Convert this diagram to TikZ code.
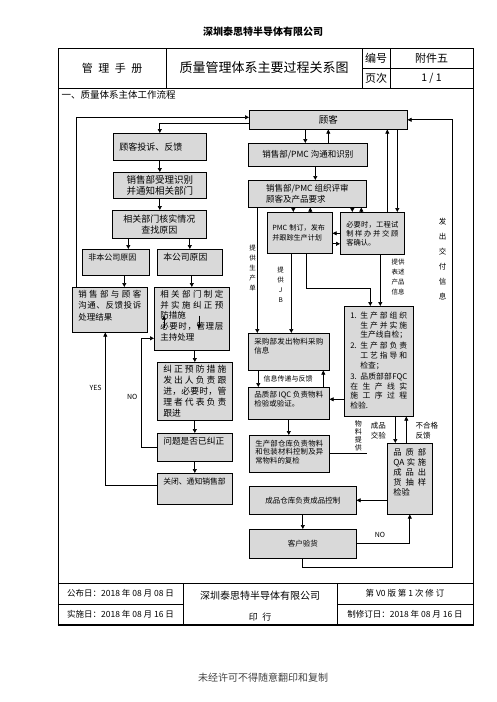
\documentclass[tikz,border=0pt]{standalone}
\usepackage{fontspec}
\setmainfont{Noto Sans CJK SC}
\usepackage{tikz}
\usetikzlibrary{arrows.meta,positioning}
% stretchable glue between Chinese characters, so that \linebreak gives full lines
\newcount\cjkchar
\cjkchar="4E00
\loop\XeTeXcharclass\cjkchar=7 \advance\cjkchar by 1 \ifnum\cjkchar<"A000 \repeat
\XeTeXcharclass"3001=8 \XeTeXcharclass"3002=8 \XeTeXcharclass"FF0C=8
\XeTeXcharclass"FF1A=8 \XeTeXcharclass"FF1B=8
\XeTeXinterchartokenstate=1
\XeTeXinterchartoks 7 7 = {\hskip 0pt plus 0.6em\relax}
\XeTeXinterchartoks 7 8 = {\nobreak\hskip 0pt plus 0.6em\relax}
\XeTeXinterchartoks 8 7 = {\hskip 0pt plus 0.6em\relax}
\definecolor{BoxGray}{HTML}{D9D9D9}
\definecolor{NoteGray}{HTML}{444444}
\newcommand{\fsz}[2]{\fontsize{#1}{#2}\selectfont}
\newcommand{\itm}[1]{\hangindent=10pt\hangafter=1\makebox[10pt][l]{#1}}
\tikzset{
  box/.style={draw=black,fill=BoxGray,line width=0.6pt,anchor=north west,inner xsep=6pt,inner ysep=3pt},
  arr/.style={-{Triangle[length=4pt,width=4pt]},line width=0.7pt},
  ln/.style={line width=0.7pt},
  frame/.style={line width=0.9pt},
  vlab/.style={align=center,inner sep=1pt,font=\fsz{6.5}{10}},
  lab/.style={inner sep=1pt,font=\fsz{7}{9}}
}

\begin{document}
\begin{tikzpicture}[x=1pt,y=-1pt]
  \useasboundingbox (0,0) rectangle (496,702);
  \fill[white] (0,0) rectangle (496,702);
  % page header and frame
  \node[font=\bfseries\fsz{10}{12}] (title) at (263,32) {深圳泰思特半导体有限公司};
  \draw[frame] (58,48) rectangle (473,625);
  \draw[frame] (58,88) -- (473,88);
  \draw[frame] (166,48) -- (166,88) (362,48) -- (362,88) (390,48) -- (390,88) (362,68) -- (473,68);
  \draw[frame] (58,583) -- (473,583) (183,583) -- (183,625) (337,583) -- (337,625) (58,604) -- (183,604) (337,604) -- (473,604);
  \draw[line width=1.6pt] (57.5,625) -- (473.5,625);
  \node[font=\fsz{11}{13}] (hman) at (112,68) {管\enspace 理\enspace 手\enspace 册};
  \node[font=\fsz{13}{15}] (htitle) at (264,68) {质量管理体系主要过程关系图};
  \node[font=\fsz{11}{13}] (hno) at (376,58) {编号};
  \node[font=\fsz{11}{13}] (hnov) at (431.5,58) {附件五};
  \node[font=\fsz{11}{13}] (hpg) at (376,78) {页次};
  \node[font=\fsz{10.5}{13}] (hpgv) at (431.5,78) {1 / 1};
  \node[anchor=west,font=\fsz{9.5}{11}] (sect) at (58,95) {一、质量体系主体工作流程};

  % complaint handling
  \node[box,text width=81pt,minimum height=27pt,align=left,font=\fsz{9}{11}] (cmp) at (113,133) {顾客投诉、反馈};
  \node[box,minimum width=93pt,minimum height=26pt,align=center,font=\fsz{9.5}{10.5}] (accept) at (113,172) {销售部受理识别\\并通知相关部门};
  \node[box,minimum width=94pt,minimum height=28pt,align=center,font=\fsz{9}{10.5}] (check) at (112,210) {相关部门核实情况\\查找原因};
  \node[box,text width=55pt,text height=8pt,text depth=12pt,align=left,font=\fsz{8}{10}] (nonown) at (82,249) {非本公司原因};
  \node[box,text width=53pt,text height=8pt,text depth=12pt,align=left,font=\fsz{8.8}{10}] (own) at (157,249) {本公司原因};
  \node[box,text width=63pt,text height=7pt,text depth=32pt,align=justify,font=\fsz{8.5}{11.5}] (reply) at (72,287) {销售部与顾客\linebreak 沟通、反馈投诉\linebreak 处理结果};
  \node[box,text width=63pt,text height=7pt,text depth=50pt,align=justify,font=\fsz{8.5}{10.7}] (corr) at (154,287) {相关部门制定\linebreak 并实施纠正预\linebreak 防措施\par 必要时，管理层\linebreak 主持处理};
  \node[box,text width=63pt,text height=7.5pt,text depth=44.5pt,align=justify,font=\fsz{8.8}{10.8}] (act) at (157,362) {纠正预防措施\linebreak 发出人负责跟\linebreak 进，必要时，管\linebreak 理者代表负责\linebreak 跟进};
  \node[box,text width=63pt,text height=8pt,text depth=14pt,align=left,font=\fsz{8.7}{10}] (fixed) at (157,433) {问题是否已纠正};
  \node[box,text width=63pt,text height=8pt,text depth=17pt,align=left,font=\fsz{7.8}{10}] (close) at (157,473) {关闭、通知销售部};

  % customer and production
  \node[box,minimum width=158pt,minimum height=19pt,font=\fsz{9.5}{11}] (cust) at (249,110) {顾客};
  \node[box,minimum width=119pt,minimum height=23pt,font=\fsz{8.5}{10}] (comm) at (248,143) {销售部/PMC 沟通和识别};
  \node[box,minimum width=118pt,minimum height=27pt,align=left,font=\fsz{8.5}{11}] (review) at (248,180) {销售部/PMC 组织评审\\顾客及产品要求};
  \node[box,inner xsep=5pt,text width=55pt,minimum height=41pt,align=left,font=\fsz{7.1}{10}] (pmc) at (267,212) {PMC 制订，发布\\并跟踪生产计划};
  \node[box,text width=52pt,minimum height=42pt,align=justify,font=\fsz{7.3}{9}] (trial) at (340,212) {必要时，工程试\linebreak 制样办并交顾\linebreak 客确认。};
  \node[box,text width=69pt,text height=8pt,text depth=23pt,align=justify,font=\fsz{7.5}{9}] (purch) at (248,333) {采购部发出物料采购\linebreak 信息};
  \node[box,text width=69pt,text height=7pt,text depth=19pt,align=justify,font=\fsz{7.5}{9}] (iqc) at (248,387) {品质部 IQC 负责物料\linebreak 检验或验证。};
  \node[box,text width=57pt,text height=9pt,text depth=95pt,align=justify,font=\fsz{7.8}{9.7}] (prod) at (344,306) {\itm{1.}生产部组织\linebreak 生产并实施\linebreak 生产线自检；\par\vspace{1.5pt}
    \itm{2.}生产部负责\linebreak 工艺指导和\linebreak 检查；\par\vspace{1.5pt}
    \itm{3.}品质部部\hskip 0pt plus 1em FQC\linebreak 在生产线实\linebreak 施工序过程\linebreak 检验.};
  \node[box,text width=68pt,text height=8pt,text depth=23pt,align=justify,font=\fsz{7.4}{8.5}] (store) at (249,435) {生产部仓库负责物料\linebreak 和包装材料控制及异\linebreak 常物料的复检};
  \node[box,text width=33pt,text height=9pt,text depth=56pt,align=justify,font=\fsz{8.3}{10}] (qa) at (387,443) {品质部\linebreak QA 实施\linebreak 成品出\linebreak 货抽样\linebreak 检验};
  \node[box,minimum width=107pt,minimum height=28pt,font=\fsz{7.5}{9}] (fg) at (249,486) {成品仓库负责成品控制};
  \node[box,minimum width=107pt,minimum height=29pt,font=\fsz{7.5}{9}] (insp) at (249,529) {客户验货};

  % complaint connectors
  \draw[arr] ([xshift=4pt]reply.north west) |- ([yshift=2.5pt]cust.west);
  \draw[arr] ([yshift=-3.5pt]cust.west) -| (cmp.north);
  \draw[arr] (cmp) -- (accept);
  \draw[arr] (accept.south) -- (accept.south |- check.north);
  \draw[arr] ([xshift=-31pt]check.south) -- ([xshift=-31pt]check.south |- nonown.north);
  \draw[arr] (check.south -| own.north) -- (own.north);
  \draw[arr] ([xshift=8.5pt]nonown.south) -- ([xshift=8.5pt]nonown.south |- reply.north);
  \draw[arr] (own.south -| corr.north) -- (corr.north);
  \draw[arr] (corr.south -| act.north) -- (act.north);
  \draw[arr] (act) -- (fixed);
  \draw[arr] (fixed) -- (close);
  \draw[arr] (fixed.west) -- ++(-16,0) |- node[pos=0.23,left,font=\fsz{7}{9}]{NO} ([yshift=-19.5pt]corr.west);
  \draw[arr] ([yshift=3.5pt]close.west) -| node[pos=0.82,left,font=\fsz{7}{9}]{YES} ([xshift=-4.5pt]reply.south);
  \draw[arr] ([xshift=10pt,yshift=23pt]corr.south west) -- ([xshift=10pt,yshift=35pt]corr.south west);
  \draw[arr] ([xshift=45pt,yshift=35pt]corr.south west) -- ([xshift=45pt,yshift=22pt]corr.south west);

  % order and production connectors
  \draw[arr] ([xshift=-2.5pt]comm.north |- cust.south) -- ([xshift=-2.5pt]comm.north);
  \draw[arr] ([xshift=20.5pt]comm.north) -- ([xshift=20.5pt]comm.north |- cust.south);
  \draw[arr] ([xshift=8pt]review.north |- comm.south) -- ([xshift=8pt]review.north);
  \draw[arr] ([xshift=-6.5pt]pmc.north |- review.south) -- ([xshift=-6.5pt]pmc.north);
  \draw[arr] ([xshift=10.5pt]pmc.north) -- ([xshift=10.5pt]pmc.north |- review.south);
  \draw[arr] ([xshift=-20pt]trial.north |- review.south) -- ([xshift=-20pt]trial.north);
  \draw[arr] ([xshift=-11pt]trial.north) -- ([xshift=-11pt]trial.north |- review.south);
  \draw[arr] ([xshift=15pt]trial.north) -- ([xshift=15pt]trial.north |- cust.south);
  \draw[arr] ([xshift=25pt]trial.north |- cust.south) -- ([xshift=25pt]trial.north);
  \draw[arr] (trial.west) -- (trial.west -| pmc.east);
  \draw[arr] ([yshift=-11pt]pmc.east) -- ([yshift=-11pt]pmc.east -| trial.west);
  \draw[arr] ([xshift=-31.5pt]purch.north |- review.south) -- node[pos=0.48,left=0pt,vlab]{提\\供\\生\\产\\单} ([xshift=-31.5pt]purch.north);
  \draw[arr] ([xshift=-8.5pt]pmc.south) -- node[pos=0.39,left=6pt,vlab]{提\\供\\J\\B} ([xshift=-8.5pt]pmc.south |- purch.north);
  \draw[arr] ([xshift=6.5pt]pmc.south) -- ++(0,35) -| ([xshift=-8.5pt]prod.north);
  \draw[arr] ([xshift=8pt]trial.south) -- node[pos=0.44,right=10pt,vlab,align=left]{提供\\表述\\产品\\信息} ([xshift=8pt]trial.south |- prod.north);
  \draw[arr] (insp.south) -- ++(0,9) -| node[pos=0.845,left=5pt,vlab,font=\fsz{7.5}{15}]{发\\出\\交\\付\\信\\息} ([xshift=45pt]cust.east) -- (cust.east);
  \draw[arr] ([xshift=-30.5pt]purch.south) -- node[right=4pt,lab]{信息传递与反馈} ([xshift=-30.5pt]iqc.north);
  \draw[arr] ([xshift=34.5pt]iqc.north) -- ([xshift=34.5pt]purch.south);
  \draw[arr] ([yshift=4pt]iqc.east -| prod.west) -- ([yshift=4pt]iqc.east);
  \draw[arr] (iqc.south) -- (iqc.south |- store.north);
  \draw[ln] (store.east) -- node[pos=0.78,above=1pt,vlab,font=\fsz{7}{8}]{物\\料\\提\\供} ++(37,0) coordinate (matl);
  \draw[arr] ([xshift=16.5pt]prod.south) -- node[pos=0.52,left=8pt,vlab,font=\fsz{7.5}{10}]{成品\\交验} ([xshift=16.5pt]prod.south |- qa.north);
  \draw[arr] ([xshift=-3.5pt]qa.north) -- node[pos=0.48,right=8pt,vlab,align=left,font=\fsz{7.5}{10}]{不合格\\反馈} ([xshift=-3.5pt]qa.north |- prod.south);
  \draw[arr] (qa.west |- fg.east) -- (fg.east);
  \draw[arr] (fg) -- (insp);
  \draw[arr] (insp.east) -| node[pos=0.22,above=5pt,lab]{NO} (qa.south);

  % page footer
  \node[font=\fsz{8.5}{10}] (fpub) at (120.5,593.5) {公布日：2018 年 08 月 08 日};
  \node[font=\fsz{8.5}{10}] (fimp) at (120.5,614.5) {实施日：2018 年 08 月 16 日};
  \node[font=\fsz{10}{12}] (fco) at (260,596) {深圳泰思特半导体有限公司};
  \node[font=\fsz{9}{11}] (fprt) at (260,617) {印\enspace 行};
  \node[font=\fsz{8.5}{10}] (fver) at (405,593.5) {第 V0 版 第 1 次 修 订};
  \node[font=\fsz{8.5}{10}] (frev) at (405,614.5) {制修订日：2018 年 08 月 16 日};
  \node[font=\fsz{10}{12},text=NoteGray] (note) at (263,678) {未经许可不得随意翻印和复制};
\end{tikzpicture}
\end{document}
